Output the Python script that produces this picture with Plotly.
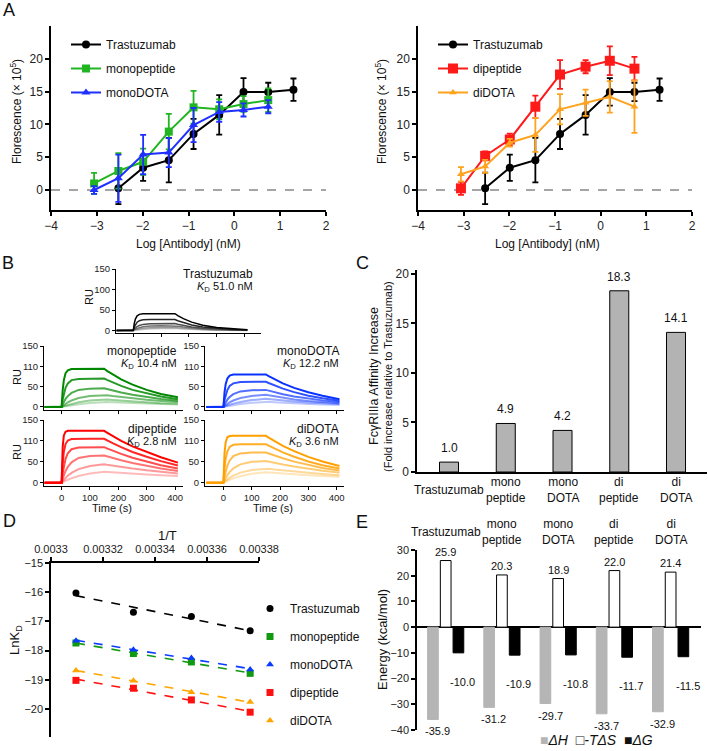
import numpy as np
import plotly.graph_objects as go

W, H = 708, 751
FONT = "Liberation Sans, Arial, sans-serif"

# ---------------- A: binding curves ----------------
a_logc = [-3.06, -2.53, -1.99, -1.43, -0.89, -0.33, 0.20, 0.74, 1.29]
a_trast = [0.25, 3.4, 4.55, 8.55, 11.45, 14.95, 14.95, 15.3]
a_trast_err = [2.4, 2.0, 3.4, 2.3, 3.0, 2.1, 1.4, 1.7]
a_monopep = [1.0, 2.9, 4.3, 8.9, 12.6, 12.3, 13.1, 13.7]
a_monopep_err = [1.6, 2.7, 2.0, 2.7, 2.5, 1.5, 1.2, 1.8]
a_monodota = [0.0, 1.8, 5.4, 5.7, 9.9, 11.9, 12.2, 12.7]
a_monodota_err = [0.6, 3.6, 3.0, 2.2, 2.6, 1.5, 1.0, 1.0]
a_dipep = [0.25, 5.2, 7.7, 12.7, 17.6, 18.8, 19.7, 18.5]
a_dipep_err = [1.0, 0.7, 0.9, 1.7, 2.2, 1.0, 2.2, 1.8]
a_didota = [2.4, 3.6, 7.2, 8.4, 12.3, 13.3, 14.2, 12.7]
a_didota_err = [1.1, 1.0, 0.6, 2.6, 2.3, 2.0, 2.4, 4.0]

# ---------------- B: SPR sensorgrams (RU) ----------------
b_time = [-60, 0, 4, 8, 14, 22, 35, 60, 100, 150, 160, 180, 210, 250, 300, 350, 410]
b_trast = [
    [0, 0, 18.5, 28.7, 36, 39.4, 40.8, 41, 41, 41, 36.5, 29, 20.5, 12.9, 7.3, 4.1, 2],
    [0, 0, 8.9, 14.9, 20.3, 24, 26.2, 27, 27, 27, 24, 19.1, 13.5, 8.5, 4.8, 2.7, 1.4],
    [0, 0, 3.6, 6.5, 9.7, 12.4, 15, 16.5, 17, 17, 15.1, 12, 8.5, 5.4, 3, 1.7, 0.9],
    [0, 0, 1.8, 3.3, 5.2, 7, 9, 10.9, 11.8, 12, 10.7, 8.5, 6, 3.8, 2.1, 1.2, 0.6],
    [0, 0, 0.9, 1.7, 2.8, 3.9, 5.3, 6.8, 7.7, 8, 7.1, 5.7, 4, 2.5, 1.4, 0.8, 0.4],
    [0, 0, 0.5, 0.9, 1.4, 2.1, 2.9, 4.1, 5, 5.5, 4.9, 3.9, 2.8, 1.7, 1, 0.5, 0.3],
]
b_monopep = [
    [0, 0, 42, 66, 83, 90, 93.5, 94, 94, 94, 89, 80, 68, 55, 42, 32, 24],
    [0, 0, 19, 33, 47, 58, 66, 69, 70, 70, 66.6, 60, 52, 42, 33, 25.5, 19],
    [0, 0, 6.9, 12.4, 19.8, 26.7, 34.5, 41.9, 45.1, 46, 44, 40.5, 35.6, 30, 24, 19.6, 15],
    [0, 0, 2.5, 4.7, 7.6, 11.4, 15.8, 22.1, 27.2, 30, 29, 27, 24.3, 21, 17.7, 14.7, 12],
    [0, 0, 1.1, 2.1, 3.4, 5.3, 7.8, 11.7, 16, 19, 18.3, 17.1, 15.4, 13.3, 11.2, 9.3, 8],
    [0, 0, 0.5, 1.1, 2, 2.9, 4.3, 6.8, 9.8, 12.5, 12.1, 11.5, 10.5, 9.4, 8.1, 7, 6],
]
b_monodota = [
    [0, 0, 36, 56, 70, 77, 79.6, 80, 80, 80, 76, 68, 58, 47, 36, 27.5, 19],
    [0, 0, 17, 29, 41.5, 51.5, 58, 61.4, 62, 62, 59, 53, 45, 36.4, 27.8, 21.3, 15],
    [0, 0, 6.3, 11.3, 18, 24.4, 31.5, 38.2, 41.2, 42, 40, 36.4, 31.5, 26, 20.6, 16.2, 12],
    [0, 0, 2.5, 4.7, 7.6, 11.4, 15.8, 22.1, 27.2, 30, 28.6, 26, 22.5, 18.6, 14.7, 11.6, 9],
    [0, 0, 1.1, 2.2, 3.6, 5.5, 8.2, 12.3, 16.9, 20, 19.2, 17.7, 15.7, 13.4, 10.9, 8.9, 7],
    [0, 0, 0.6, 1.1, 2, 3, 4.5, 7.1, 10.2, 13, 12.5, 11.6, 10.3, 8.9, 7.4, 6.2, 5],
]
b_dipep = [
    [0, 0, 87, 113, 122, 124, 124, 124, 124, 124, 120, 111.6, 100, 87, 73, 60.8, 48],
    [0, 0, 47, 73.5, 92.4, 101, 104.5, 105, 105, 105, 101, 94.5, 85, 73.5, 62, 51.5, 41],
    [0, 0, 23, 40, 57, 70.5, 80, 84, 85, 85, 82, 76.5, 69, 59.5, 50, 41.6, 34],
    [0, 0, 9.8, 17.6, 28, 37.7, 48.8, 59, 63.7, 65, 63, 59, 53.5, 47, 40, 34, 28],
    [0, 0, 3.7, 7, 11.1, 16.7, 23.2, 32.4, 39.8, 44, 42.8, 40.6, 37.5, 33.7, 29.5, 25.8, 22],
    [0, 0, 1.5, 2.8, 4.7, 7.2, 10.7, 16, 21.9, 26, 25.5, 24.6, 23.2, 21.6, 19.7, 17.9, 16],
]
b_didota = [
    [0, 0, 70.6, 97, 108.6, 111.5, 112, 112, 112, 112, 107.6, 99.5, 88, 75.4, 61.8, 50.7, 40],
    [0, 0, 35, 57, 74.5, 85.6, 90.6, 92, 92, 92, 88.4, 81.7, 72.5, 62, 50.8, 41.7, 34],
    [0, 0, 15, 27.4, 41, 52.6, 63.4, 70, 71.9, 72, 69.5, 64.8, 58.3, 50.4, 42.5, 35.3, 29],
    [0, 0, 5.9, 11.2, 18, 25.4, 34.2, 43.9, 50, 52, 50.4, 47.6, 43.5, 38.5, 33.2, 28.6, 24],
    [0, 0, 2.5, 4.9, 8.1, 11.9, 17, 24, 30.4, 34, 33.2, 31.6, 29.3, 26.6, 23.6, 20.9, 18],
    [0, 0, 1.4, 2.7, 4.5, 6.9, 10.2, 15.4, 21.1, 25, 24.4, 23.4, 21.9, 20, 17.9, 16, 14],
]
b_kd = ["51.0", "10.4", "12.2", "2.8", "3.6"]

# ---------------- C / E: per-construct values ----------------
constructs = ["Trastuzumab", "mono<br>peptide", "mono<br>DOTA", "di<br>peptide", "di<br>DOTA"]
c_fold = [1.0, 4.9, 4.2, 18.3, 14.1]
e_dH = [-35.9, -31.2, -29.7, -33.7, -32.9]
e_mTdS = [25.9, 20.3, 18.9, 22.0, 21.4]
e_dG = [-10.0, -10.9, -10.8, -11.7, -11.5]

# ---------------- D: van't Hoff ----------------
d_invT = [0.0033096, 0.0033317, 0.0033540, 0.0033766]
d_trast = [-16.03, -16.69, -16.83, -17.32]
d_monopep = [-17.74, -18.10, -18.39, -18.78]
d_monodota = [-17.66, -17.97, -18.25, -18.65]
d_dipep = [-19.02, -19.29, -19.69, -20.11]
d_didota = [-18.68, -19.03, -19.43, -19.76]


def xd(l, r):
    return [l / W, r / W]


def yd(b, t):
    return [1 - b / H, 1 - t / H]


def axis(domain, rng, anchor, size=12, lw=1.5, **kw):
    d = dict(domain=domain, range=rng, anchor=anchor, showline=True, linecolor="black",
             linewidth=lw, ticks="outside", ticklen=4, tickwidth=lw, tickcolor="black",
             showgrid=False, zeroline=False, automargin=False,
             tickfont=dict(size=size, color="#222"))
    d.update(kw)
    return d


fig = go.Figure()
ann = []


def text(t, x, y, size=12, angle=0, xanchor="center", yanchor="middle", **kw):
    ann.append(dict(text=t, x=x / W, y=1 - y / H, xref="paper", yref="paper", showarrow=False,
                    textangle=angle, xanchor=xanchor, yanchor=yanchor,
                    font=dict(size=size, color="#111", family=FONT), **kw))


# ---- A traces ----
def a_trace(ys, err, xs, name, color, symbol, size, ax, legend):
    fig.add_trace(go.Scatter(
        x=xs, y=ys, name=name, mode="lines+markers", xaxis=ax, yaxis=ax.replace("x", "y"),
        line=dict(color=color, width=2), marker=dict(symbol=symbol, size=size, color=color),
        error_y=dict(type="data", array=err, color=color, thickness=1.8, width=3),
        legend=legend, legendgroup=legend + name,
    ))


a_trace(a_trast, a_trast_err, a_logc[1:], "Trastuzumab", "#000000", "circle", 8, "x", "legend")
a_trace(a_monopep, a_monopep_err, a_logc[:8], "monopeptide", "#22b522", "square", 8, "x", "legend")
a_trace(a_monodota, a_monodota_err, a_logc[:8], "monoDOTA", "#1f2fff", "triangle-up", 8, "x", "legend")
a_trace(a_trast, a_trast_err, a_logc[1:], "Trastuzumab", "#000000", "circle", 8, "x2", "legend2")
a_trace(a_dipep, a_dipep_err, a_logc[:8], "dipeptide", "#ff1a1a", "square", 10, "x2", "legend2")
a_trace(a_didota, a_didota_err, a_logc[:8], "diDOTA", "#ffa31f", "triangle-up", 7, "x2", "legend2")

# ---- B traces ----
b_sets = [
    (b_trast, (0, 0, 0), "x3", 1.5, "Trastuzumab"),
    (b_monopep, (0, 135, 0), "x4", 2, "monopeptide"),
    (b_monodota, (10, 50, 255), "x5", 2, "monoDOTA"),
    (b_dipep, (255, 0, 0), "x6", 2, "dipeptide"),
    (b_didota, (255, 160, 0), "x7", 2, "diDOTA"),
]
alphas = [1.0, 0.85, 0.7, 0.55, 0.4, 0.27]
for curves, rgb, ax, lw, nm in b_sets:
    for i in reversed(range(len(curves))):
        if nm == "Trastuzumab":
            g = int(0 + 190 * i / 5)
            col = f"rgb({g},{g},{g})"
        else:
            col = f"rgba({rgb[0]},{rgb[1]},{rgb[2]},{alphas[i]})"
        fig.add_trace(go.Scatter(x=b_time, y=curves[i], mode="lines", xaxis=ax,
                                 yaxis=ax.replace("x", "y"), line=dict(color=col, width=lw),
                                 showlegend=False, hoverinfo="skip"))

# ---- C ----
fig.add_trace(go.Bar(x=constructs, y=c_fold, xaxis="x8", yaxis="y8", width=0.335,
                     marker=dict(color="#b3b3b3", line=dict(color="black", width=1)),
                     showlegend=False))
for c, v in zip(constructs, c_fold):
    ann.append(dict(text=f"{v:.1f}", x=c, y=v, xref="x8", yref="y8", showarrow=False,
                    yanchor="bottom", yshift=5, font=dict(size=12, color="#111", family=FONT)))
    ann.append(dict(text=c, x=c, y=1 - 490 / H, xref="x8", yref="paper", showarrow=False,
                    yanchor="middle", font=dict(size=12, color="#111", family=FONT)))

# ---- D ----
d_sets = [
    (d_trast, "Trastuzumab", "#000000", "circle"),
    (d_monopep, "monopeptide", "#129912", "square"),
    (d_monodota, "monoDOTA", "#0b3bff", "triangle-up"),
    (d_dipep, "dipeptide", "#ff1010", "square"),
    (d_didota, "diDOTA", "#ffa500", "triangle-up"),
]
for ys, nm, col, sym in d_sets:
    k, b = np.polyfit(d_invT, ys, 1)
    xs = [d_invT[0], d_invT[-1]]
    fig.add_trace(go.Scatter(x=xs, y=[k * x + b for x in xs], mode="lines", xaxis="x9",
                             yaxis="y9", line=dict(color=col, width=1.6, dash="dash"),
                             showlegend=False, hoverinfo="skip"))
    fig.add_trace(go.Scatter(x=d_invT, y=ys, mode="markers", name=nm, xaxis="x9", yaxis="y9",
                             marker=dict(color=col, symbol=sym, size=7), legend="legend3",
                             legendgroup="d" + nm))

# ---- E ----
for vals, col, line in [(e_dH, "#b5b5b5", "#b5b5b5"), (e_mTdS, "white", "black"),
                        (e_dG, "black", "black")]:
    fig.add_trace(go.Bar(x=constructs, y=vals, xaxis="x10", yaxis="y10", showlegend=False,
                         marker=dict(color=col, line=dict(color=line, width=1))))
for c, h, s, g in zip(constructs, e_dH, e_mTdS, e_dG):
    f = dict(size=11, color="#111", family=FONT)
    ann.append(dict(text=f"{s:.1f}", x=c, y=s, xref="x10", yref="y10", showarrow=False,
                    yanchor="bottom", yshift=1, font=f))
    ann.append(dict(text=f"{h:.1f}", x=c, y=h, xref="x10", yref="y10", showarrow=False,
                    yanchor="top", yshift=-4, xshift=-8, font=f))
    ann.append(dict(text=f"{g:.1f}", x=c, y=g, xref="x10", yref="y10", showarrow=False,
                    yanchor="top", yshift=-21, xshift=17, font=f))
    ann.append(dict(text=c, x=c, y=1 - 532 / H, xref="x10", yref="paper", showarrow=False,
                    yanchor="middle", font=dict(size=12, color="#111", family=FONT)))
# E key, written as text
text('<span style="color:#b5b5b5">■</span><i>ΔH</i>  □<i>-TΔS</i>  ■<i>ΔG</i>',
     596, 740, size=14)

# ---- titles & labels ----
for letter, x, y in [("A", 9, 10), ("B", 8, 263), ("C", 362, 263), ("D", 9, 521), ("E", 362, 522)]:
    text(letter, x, y, size=18)
text("Florescence (× 10<sup>5</sup>)", 16, 112, angle=-90)
text("Florescence (× 10<sup>5</sup>)", 381, 112, angle=-90)
text("Log [Antibody] (nM)", 188, 244)
text("Log [Antibody] (nM)", 547, 244)

text("RU", 89, 297, size=11, angle=-90)
text("RU", 17, 377, size=11, angle=-90)
text("RU", 17, 452, size=11, angle=-90)
text("Time (s)", 112, 508, size=11)
text("Time (s)", 273, 508, size=11)
b_lbl = [("Trastuzumab", 255, 274, 287), ("monopeptide", 179, 351, 364),
         ("monoDOTA", 341, 351, 364), ("dipeptide", 179, 429, 442), ("diDOTA", 341, 429, 442)]
for (nm, x, y1, y2), kd in zip(b_lbl, b_kd):
    text(nm, x, y1, size=12, xanchor="right")
    text(f"<i>K</i><sub>D</sub> {kd} nM", x, y2, size=11, xanchor="right")

text("FcγRIIIa Affinity Increase", 374, 376, size=12.5, angle=-90)
text("(Fold increase relative to Trastuzumab)", 388, 376, size=11, angle=-90)

text("1/T", 167, 535, size=13)
text("LnK<sub>D</sub>", 15, 640, size=13, angle=-90)
text("Energy (kcal/mol)", 382, 640, size=13, angle=-90)

btick = dict(size=9.5, lw=1, ticklen=3, ticklabelstandoff=0)

fig.update_layout(
    width=W, height=H, autosize=False,
    margin=dict(l=0, r=0, t=0, b=0, pad=0, autoexpand=False),
    paper_bgcolor="white", plot_bgcolor="white",
    font=dict(family=FONT, color="#111", size=12),
    barmode="group", bargap=0.32, bargroupgap=0.16,
    annotations=ann,
    xaxis=axis(xd(51, 326), [-4, 2], "y", dtick=1),
    yaxis=axis(yd(210, 26), [-3.05, 25], "x", tickvals=[0, 5, 10, 15, 20]),
    xaxis2=axis(xd(418, 692), [-4, 2], "y2", dtick=1),
    yaxis2=axis(yd(210, 26), [-3.05, 25], "x2", tickvals=[0, 5, 10, 15, 20]),
    xaxis3=axis(xd(116, 261), [-62, 459], "y3", tickvals=[0, 100, 200, 300, 400],
                showticklabels=False, **btick),
    yaxis3=axis(yd(333, 269), [-6, 150], "x3", tickvals=[0, 50, 100, 150], **btick),
    xaxis4=axis(xd(44, 183), [-62, 428], "y4", tickvals=[0, 100, 200, 300, 400],
                showticklabels=False, **btick),
    yaxis4=axis(yd(410, 346), [-7.5, 150], "x4", tickvals=[0, 50, 100, 150],
                ticktext=["0", "50", "110", "150"], **btick),
    xaxis5=axis(xd(205, 344), [-65, 426], "y5", tickvals=[0, 100, 200, 300, 400],
                showticklabels=False, **btick),
    yaxis5=axis(yd(410, 346), [-7.5, 150], "x5", tickvals=[0, 50, 100, 150],
                ticktext=["0", "50", "110", "150"], **btick),
    xaxis6=axis(xd(44, 183), [-62, 428], "y6", tickvals=[0, 100, 200, 300, 400], **btick),
    yaxis6=axis(yd(486, 420), [-8, 150], "x6", tickvals=[0, 50, 100, 150],
                ticktext=["0", "50", "110", "150"], **btick),
    xaxis7=axis(xd(205, 344), [-65, 426], "y7", tickvals=[0, 100, 200, 300, 400], **btick),
    yaxis7=axis(yd(486, 420), [-8, 150], "x7", tickvals=[0, 50, 100, 150],
                ticktext=["0", "50", "110", "150"], **btick),
    xaxis8=axis(xd(417, 707), [-0.564, 4.546], "y8", ticks="", showticklabels=False,
                type="category"),
    yaxis8=axis(yd(472, 270), [0, 20.4], "x8", tickvals=[0, 5, 10, 15, 20]),
    xaxis9=axis(xd(51, 259), [0.0033, 0.00338], "y9", side="top", size=11,
                tickvals=[0.0033, 0.00332, 0.00334, 0.00336, 0.00338], tickformat=".5~f"),
    yaxis9=axis(yd(737, 563), [-20.96, -15], "x9", size=11,
                tickvals=[-15, -16, -17, -18, -19, -20]),
    xaxis10=dict(domain=xd(417, 701), range=[-0.51, 4.54], anchor="y10", type="category",
                 showline=False, showticklabels=False, ticks="", showgrid=False, zeroline=False,
                 automargin=False),
    yaxis10=axis(yd(730, 550), [-40, 30], "x10", size=11, tickvals=list(range(-40, 31, 10)),
                 zeroline=True, zerolinecolor="black", zerolinewidth=1.5),
    legend=dict(x=66 / W, y=1 - 30 / H, xanchor="left", yanchor="top", bgcolor="rgba(0,0,0,0)",
                font=dict(size=12), tracegroupgap=5, itemwidth=30),
    legend2=dict(x=433 / W, y=1 - 30 / H, xanchor="left", yanchor="top",
                 bgcolor="rgba(0,0,0,0)", font=dict(size=12), tracegroupgap=5, itemwidth=30),
    legend3=dict(x=250 / W, y=1 - 594 / H, xanchor="left", yanchor="top",
                 bgcolor="rgba(0,0,0,0)", font=dict(size=12), tracegroupgap=9, itemwidth=30),
)

for ax in ["y", "y2"]:
    fig.add_shape(type="line", xref=ax.replace("y", "x") + " domain", yref=ax, x0=0, x1=1,
                  y0=0, y1=0, line=dict(color="#888", width=1.5, dash="dash"), layer="below")

# the page's default body margin would push the figure 8px right and down
fig.write_html("out.html", config={"displayModeBar": False},
               post_script="document.body.style.margin='0px';")
